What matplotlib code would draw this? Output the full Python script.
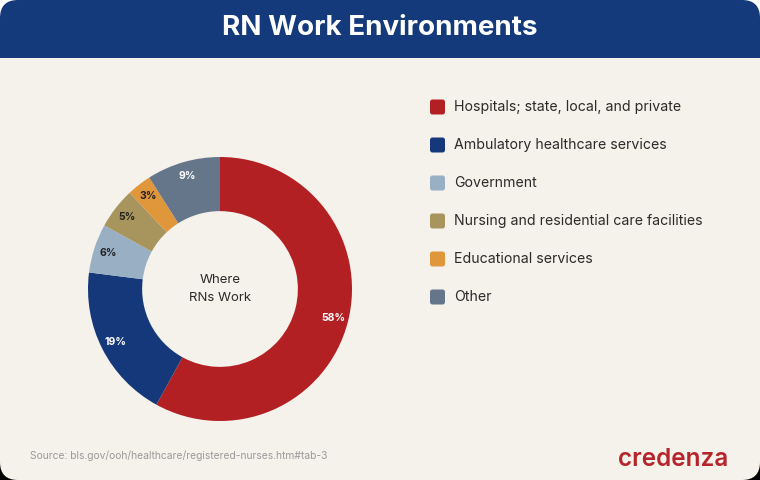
import matplotlib
matplotlib.use("Agg")
import matplotlib.pyplot as plt
from matplotlib.patches import FancyBboxPatch, Rectangle

categories = ["Hospitals; state, local, and private", "Ambulatory healthcare services",
              "Government", "Nursing and residential care facilities",
              "Educational services", "Other"]
values = [58, 19, 6, 5, 3, 9]
colors = ["#b22024", "#15387a", "#98afc4", "#a8955e", "#e0963b", "#66768a"]
label_colors = ["white", "white", "#222222", "#222222", "#222222", "white"]

W, H = 760, 480
BG = "#f5f1eb"
NAVY = "#143a7b"

fig = plt.figure(figsize=(W/100, H/100), dpi=100)
fig.patch.set_facecolor("white")
plt.rcParams['font.family'] = ['Inter', 'DejaVu Sans']

bg = fig.add_axes([0, 0, 1, 1])
bg.set_xlim(0, W); bg.set_ylim(H, 0); bg.axis("off")
# bottom corners black, top white
bg.add_patch(Rectangle((0, H/2), W, H/2, color="black", zorder=0))
bg.add_patch(FancyBboxPatch((0, 0), W, H, boxstyle="round,pad=0,rounding_size=18",
                            fc=BG, ec="none", zorder=1))
bg.add_patch(FancyBboxPatch((0, 0), W, 58, boxstyle="round,pad=0,rounding_size=18",
                            fc=NAVY, ec="none", zorder=2))
bg.add_patch(Rectangle((0, 30), W, 28, fc=NAVY, ec="none", zorder=2))
bg.text(W/2, 28, "RN Work Environments", color="white", fontsize=20, fontweight="bold",
        ha="center", va="center", zorder=3)

# legend
y0, dy = 107, 38
for i, (c, col) in enumerate(zip(categories, colors)):
    y = y0 + i*dy
    bg.add_patch(FancyBboxPatch((430, y-7.5), 15, 15, boxstyle="round,pad=0,rounding_size=2.5",
                                fc=col, ec="none", zorder=3))
    bg.text(454, y, c, color="#2b2b2b", fontsize=10.2, ha="left", va="center", zorder=3)

bg.text(30, 456, "Source: bls.gov/ooh/healthcare/registered-nurses.htm#tab-3",
        color="#9a9a9a", fontsize=7.4, ha="left", va="center", zorder=3)
bg.text(728, 459, "credenza", color="#b5252b", fontsize=17.5, fontweight="semibold",
        ha="right", va="center", zorder=3)

# donut
cx, cy, r = 220, 289, 132
ax = fig.add_axes([(cx-r)/W, (H-cy-r)/H, 2*r/W, 2*r/H])
wedges, texts, autotexts = ax.pie(values, colors=colors, startangle=90, counterclock=False,
                                  radius=1, wedgeprops=dict(width=0.41, edgecolor="none"),
                                  autopct=lambda p: f"{p:.0f}%", pctdistance=0.89,
                                  textprops=dict(fontsize=7.5, fontweight="bold"))
ax.set_xlim(-1, 1); ax.set_ylim(-1, 1); ax.axis("off")
for t, c in zip(autotexts, label_colors):
    t.set_color(c)
ax.text(0, 0, "Where\nRNs Work", ha="center", va="center", fontsize=9.5, color="#2b2b2b",
        linespacing=1.6)

fig.savefig("out.png", dpi=100, facecolor=fig.get_facecolor())
